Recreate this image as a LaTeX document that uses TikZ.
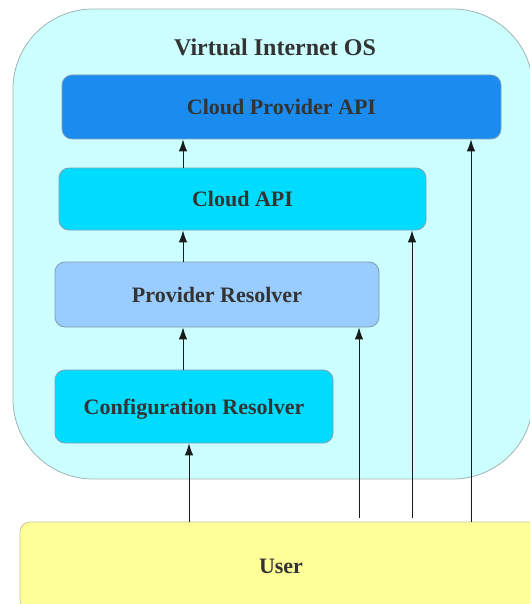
\documentclass[tikz,border=0pt]{standalone}
\usepackage{fontspec}
\setmainfont{Liberation Serif}
\usetikzlibrary{arrows.meta}
\definecolor{osfill}{HTML}{CCFFFF}
\definecolor{osborder}{HTML}{A0B4B4}
\definecolor{cpafill}{HTML}{1A8CF0}
\definecolor{cyanfill}{HTML}{00DCFF}
\definecolor{prfill}{HTML}{99CCFF}
\definecolor{userfill}{HTML}{FFFF99}
\definecolor{userborder}{HTML}{C8C8A0}
\definecolor{boxborder}{HTML}{7F9FB0}
\definecolor{txt}{HTML}{333333}
\definecolor{arrowc}{HTML}{1A1A1A}
\begin{document}
\begin{tikzpicture}[x=1pt,y=-1pt,
  lbl/.style={font=\fontsize{22pt}{26pt}\selectfont\bfseries, text=txt},
  layer/.style={lbl, draw=boxborder, line width=0.8pt, rounded corners=10pt, inner sep=0pt, text depth=0pt},
  arr/.style={draw=arrowc, line width=0.9pt, -{Latex[length=12pt,width=8.5pt]}}]
\useasboundingbox (0,0) rectangle (530,604);
\clip (0,0) rectangle (530,604);
% outer container
\node[draw=osborder, fill=osfill, line width=0.8pt, rounded corners=80pt,
      minimum width=520pt, minimum height=470pt, inner sep=0pt] (os) at (273,244) {};
\node[lbl, font=\fontsize{24pt}{28pt}\selectfont\bfseries, anchor=base] (title) at (275,56) {Virtual Internet OS};
% layers
\node[layer, fill=cpafill, minimum width=439pt, minimum height=64pt] (cpa) at (281.5,107) {Cloud Provider API};
\node[layer, fill=cyanfill, minimum width=367pt, minimum height=62pt] (capi) at (242.5,199) {Cloud API};
\node[layer, fill=prfill, minimum width=324pt, minimum height=65pt] (pr) at (217,294.5) {Provider Resolver};
\node[layer, fill=cyanfill, minimum width=278pt, minimum height=73pt] (cr) at (194,406.5) {Configuration Resolver};
\node[layer, draw=userborder, fill=userfill, minimum width=522pt, minimum height=88pt] (user) at (281,566) {User};
% x positions of connectors
\coordinate (xa) at (183,0);
\coordinate (xb) at (189,0);
\coordinate (xc) at (359,0);
\coordinate (xd) at (412,0);
\coordinate (xe) at (471,0);
% stacked connectors
\draw[arr] (cr.north -| xa) -- (pr.south -| xa);
\draw[arr] (pr.north -| xa) -- (capi.south -| xa);
\draw[arr] (capi.north -| xa) -- (cpa.south -| xa);
% connectors from user
\draw[arr] (user.north -| xb) -- (cr.south -| xb);
\draw[arr] ([yshift=4pt]user.north -| xc) -- (pr.south -| xc);
\draw[arr] ([yshift=4pt]user.north -| xd) -- (capi.south -| xd);
\draw[arr] (user.north -| xe) -- (cpa.south -| xe);
\end{tikzpicture}
\end{document}
